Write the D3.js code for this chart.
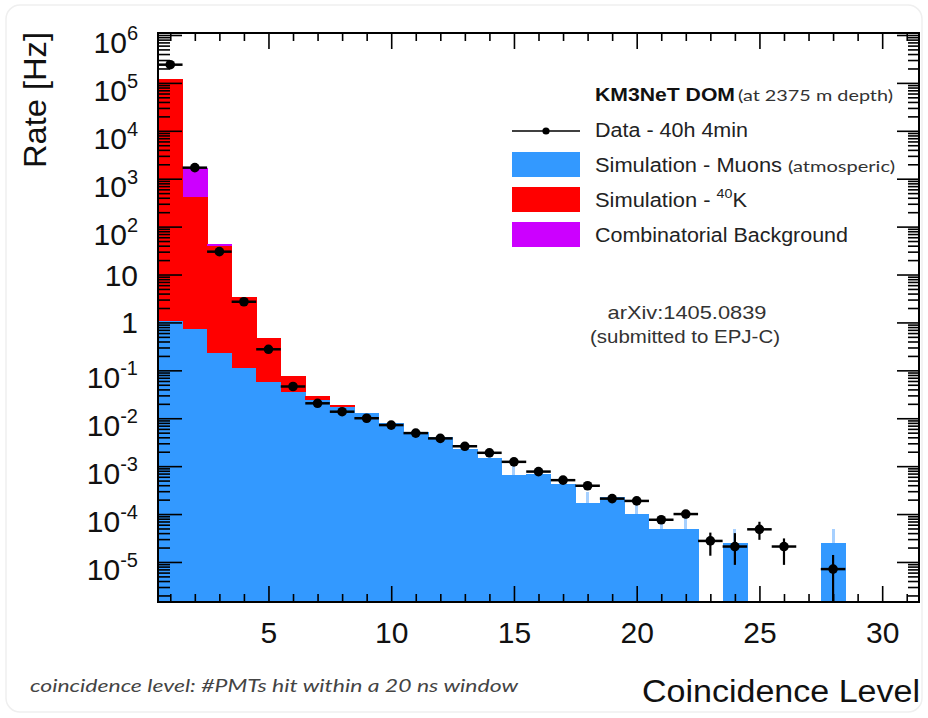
<!DOCTYPE html>
<html>
<head>
<meta charset="utf-8">
<script src="https://cdn.jsdelivr.net/npm/d3@7"></script>
<style>
  body { margin: 0; background: #fff; }
  text { font-family: "Liberation Sans", Arial, Helvetica, sans-serif; }
</style>
</head>
<body>
<svg id="chart" width="928" height="718"></svg>
<script>
// Coincidence level of each histogram bin
const levels = d3.range(1, 32);

// Simulated rates [Hz] per coincidence level (stacked: muons, 40K, combinatorial)
const muonRate = [1.09, 0.72, 0.227, 0.111, 0.058, 0.036, 0.024, 0.0175, 0.0131, 0.0081,
  0.0052, 0.0040, 0.0023, 0.00145, 0.00066, 0.00069, 0.00043, 0.00017, 0.00023, 0.0001,
  4.9e-5, 4.9e-5, 0, 2.5e-5, 0, 0, 0, 2.5e-5, 0, 0, 0];
const k40Rate = [1.2e5, 419, 39.8, 3.35, 0.42, 0.042, 0.005, 0.0015, 0, 0,
  0, 0, 0, 0, 0, 0, 0, 0, 0, 0, 0, 0, 0, 0, 0, 0, 0, 0, 0, 0, 0];
const combRate = [0, 1280, 3, 0, 0, 0, 0, 0, 0, 0,
  0, 0, 0, 0, 0, 0, 0, 0, 0, 0, 0, 0, 0, 0, 0, 0, 0, 0, 0, 0, 0];
// Upper end of the muon simulation uncertainty, where it shows above the bar
const muonErrHigh = [null, null, null, null, null, null, null, null, null, null,
  null, null, null, 0.0019, 0.00105, null, null, 0.000295, null, 0.00017,
  7e-5, 8.5e-5, null, 4.9e-5, null, null, null, 4.9e-5, null, null, null];

// Measured rates [Hz] (40h 4min of data) with their error bars
const dataRate = [2.4e5, 1700, 30, 2.7, 0.275, 0.046, 0.0205, 0.0137, 0.0100, 0.0072,
  0.0049, 0.0038, 0.0026, 0.0019, 0.00123, 0.00077, 0.00051, 0.00039, 0.00021, 0.000188,
  7.6e-5, 1.0e-4, 2.75e-5, 2.1e-5, 4.8e-5, 2.1e-5, null, 7.1e-6, null, null, null];
const dataLow = [null, null, null, null, null, null, null, null, null, null,
  null, null, null, null, null, null, null, null, null, null,
  6.2e-5, 8.2e-5, 1.35e-5, 8.7e-6, 2.9e-5, 8.7e-6, null, 0, null, null, null];
const dataHigh = [null, null, null, null, null, null, null, null, null, null,
  null, null, null, null, null, null, null, null, null, null,
  9.2e-5, 1.2e-4, 4.1e-5, 4.0e-5, 6.9e-5, 3.1e-5, null, 1.4e-5, null, null, null];

// Axis ticks and labels
const xMajorTicks = [5, 10, 15, 20, 25, 30];
const yDecades = d3.range(-5, 7);

const colors = { muon: "#3399ff", k40: "#ff0000", comb: "#cc00ff", muonErr: "#a6d0ff" };

const svg = d3.select("#chart");
const frameLeft = 158, frameRight = 919, frameTop = 33, frameBottom = 602;

const x = d3.scaleLinear().domain([0.5, 31.5]).range([frameLeft, frameRight]);
const y = d3.scaleLog().domain([1.46e-6, 1.1e6]).range([frameBottom, frameTop]).clamp(true);

// faint outer border of the figure
svg.append("rect").attr("x", 6).attr("y", 5).attr("width", 916).attr("height", 707)
  .attr("rx", 14).attr("fill", "none").attr("stroke", "#efefef").attr("stroke-width", 1.5);

// ---- stacked histogram ----
const rows = levels.map((l, i) => ({ level: l, muon: muonRate[i], k40: k40Rate[i], comb: combRate[i] }));
const stacked = d3.stack().keys(["muon", "k40", "comb"])(rows);

const plot = svg.append("g").attr("shape-rendering", "crispEdges");
stacked.forEach(layer => {
  plot.append("g").attr("fill", colors[layer.key])
    .selectAll("rect")
    .data(layer.filter(d => d[1] > d[0]))
    .join("rect")
    .attr("x", d => x(d.data.level - 0.5))
    .attr("width", d => x(d.data.level + 0.5) - x(d.data.level - 0.5) + 0.5)
    .attr("y", d => y(d[1]))
    .attr("height", d => (d[0] > 0 ? y(d[0]) : frameBottom) - y(d[1]));
});

// muon simulation uncertainty above the bars
plot.append("g").attr("stroke", colors.muonErr).attr("stroke-width", 3)
  .selectAll("line")
  .data(levels.map((l, i) => ({ level: l, v: muonRate[i], hi: muonErrHigh[i] })).filter(d => d.hi != null))
  .join("line")
  .attr("x1", d => x(d.level)).attr("x2", d => x(d.level))
  .attr("y1", d => y(d.v)).attr("y2", d => y(d.hi));

// ---- axes (ticks inside the frame on all four sides) ----
const yMajor = yDecades.map(e => Math.pow(10, e));
const yMinor = y.ticks(30).filter(v => !yMajor.some(m => Math.abs(v / m - 1) < 1e-6));
const xMinor = levels.filter(v => xMajorTicks.indexOf(v) < 0);

function bare(g) { g.select(".domain").remove(); g.selectAll(".tick line").attr("stroke", "#000").attr("stroke-width", 1.6); }

svg.append("g").attr("transform", `translate(${frameLeft},0)`)
  .call(d3.axisLeft(y).tickValues(yMinor).tickSizeInner(-12).tickSizeOuter(0).tickFormat(""))
  .call(bare);
const yAxis = svg.append("g").attr("transform", `translate(${frameLeft},0)`)
  .call(d3.axisLeft(y).tickValues(yMajor).tickSizeInner(-24).tickSizeOuter(0).tickPadding(20))
  .call(bare);
yAxis.selectAll(".tick text").each(function (d) {
  const e = Math.round(Math.log10(d));
  const t = d3.select(this).text(null).attr("fill", "#111")
    .attr("font-size", 30).attr("dy", null).attr("text-anchor", "end");
  if (e === 0 || e === 1) {
    t.attr("y", 10.5).text(e === 0 ? "1" : "10");
  } else {
    t.attr("y", 17.5);
    t.append("tspan").text("10");
    t.append("tspan").attr("font-size", 20).attr("dy", -13).text(String(e));
  }
});

svg.append("g").attr("transform", `translate(${frameRight},0)`)
  .call(d3.axisRight(y).tickValues(yMinor).tickSizeInner(-11).tickSizeOuter(0).tickFormat(""))
  .call(bare);
svg.append("g").attr("transform", `translate(${frameRight},0)`)
  .call(d3.axisRight(y).tickValues(yMajor).tickSizeInner(-22).tickSizeOuter(0).tickFormat(""))
  .call(bare);

svg.append("g").attr("transform", `translate(0,${frameBottom})`)
  .call(d3.axisBottom(x).tickValues(xMinor).tickSizeInner(-8).tickSizeOuter(0).tickFormat(""))
  .call(bare);
const xAxis = svg.append("g").attr("transform", `translate(0,${frameBottom})`)
  .call(d3.axisBottom(x).tickValues(xMajorTicks).tickSizeInner(-16).tickSizeOuter(0).tickFormat(d3.format("d")))
  .call(bare);
xAxis.selectAll(".tick text").attr("font-size", 30).attr("fill", "#111").attr("y", 41).attr("dy", null);

svg.append("g").attr("transform", `translate(0,${frameTop})`)
  .call(d3.axisTop(x).tickValues(xMinor).tickSizeInner(-8).tickSizeOuter(0).tickFormat(""))
  .call(bare);
svg.append("g").attr("transform", `translate(0,${frameTop})`)
  .call(d3.axisTop(x).tickValues(xMajorTicks).tickSizeInner(-16).tickSizeOuter(0).tickFormat(""))
  .call(bare);

// frame
svg.append("rect").attr("x", frameLeft).attr("y", frameTop)
  .attr("width", frameRight - frameLeft).attr("height", frameBottom - frameTop)
  .attr("fill", "none").attr("stroke", "#000").attr("stroke-width", 2);

// ---- data points ----
const pts = levels.map((l, i) => ({ level: l, v: dataRate[i], lo: dataLow[i], hi: dataHigh[i] })).filter(d => d.v != null);
const dg = svg.append("g").attr("stroke", "#000");
dg.selectAll("line.h").data(pts).join("line").attr("class", "h")
  .attr("x1", d => x(d.level - 0.5)).attr("x2", d => x(d.level + 0.5))
  .attr("y1", d => y(d.v)).attr("y2", d => y(d.v)).attr("stroke-width", 2.5);
dg.selectAll("line.v").data(pts.filter(d => d.hi != null)).join("line").attr("class", "v")
  .attr("x1", d => x(d.level)).attr("x2", d => x(d.level))
  .attr("y1", d => d.lo > 0 ? y(d.lo) : frameBottom).attr("y2", d => y(d.hi)).attr("stroke-width", 2.2);
dg.selectAll("circle").data(pts).join("circle")
  .attr("cx", d => x(d.level)).attr("cy", d => y(d.v)).attr("r", 4.8).attr("fill", "#000").attr("stroke", "none");

// ---- legend ----
const lg = svg.append("g");
lg.append("text").attr("x", 595).attr("y", 101).attr("font-size", 19).attr("font-weight", "bold")
  .attr("fill", "#111").attr("textLength", 140).attr("lengthAdjust", "spacingAndGlyphs").text("KM3NeT DOM");
lg.append("text").attr("x", 738).attr("y", 101).attr("font-size", 16).attr("fill", "#333")
  .style("font-family", "Lato, 'Open Sans', sans-serif")
  .attr("textLength", 155).attr("lengthAdjust", "spacingAndGlyphs").text("(at 2375 m depth)");

lg.append("line").attr("x1", 512).attr("x2", 580).attr("y1", 131).attr("y2", 131).attr("stroke", "#000").attr("stroke-width", 1.6);
lg.append("circle").attr("cx", 546).attr("cy", 131).attr("r", 3.6).attr("fill", "#000");
lg.append("text").attr("x", 595).attr("y", 137).attr("font-size", 20).attr("fill", "#222")
  .attr("textLength", 153).attr("lengthAdjust", "spacingAndGlyphs").text("Data - 40h 4min");

const boxes = [
  { key: "muon", y: 152, label: "Simulation - Muons", width: 187 },
  { key: "k40", y: 187, label: null, width: 152 },
  { key: "comb", y: 222, label: "Combinatorial Background", width: 253 }
];
boxes.forEach(b => {
  lg.append("rect").attr("x", 512).attr("y", b.y).attr("width", 68).attr("height", 25).attr("fill", colors[b.key]);
  const t = lg.append("text").attr("x", 595).attr("y", b.y + 20).attr("font-size", 20).attr("fill", "#222")
    .attr("textLength", b.width).attr("lengthAdjust", "spacingAndGlyphs");
  if (b.label) t.text(b.label);
  else {
    t.append("tspan").text("Simulation - ");
    t.append("tspan").attr("font-size", 13).attr("dy", -9).text("40");
    t.append("tspan").attr("dy", 9).text("K");
  }
});
lg.append("text").attr("x", 788).attr("y", 172).attr("font-size", 16).attr("fill", "#333")
  .style("font-family", "Lato, 'Open Sans', sans-serif")
  .attr("textLength", 107).attr("lengthAdjust", "spacingAndGlyphs").text("(atmosperic)");

// reference note
const note = svg.append("g").attr("fill", "#333").attr("text-anchor", "middle")
  .style("font-family", "Lato, 'Open Sans', sans-serif").attr("font-size", 19);
note.append("text").attr("x", 687).attr("y", 319).attr("textLength", 159).attr("lengthAdjust", "spacingAndGlyphs").text("arXiv:1405.0839");
note.append("text").attr("x", 685).attr("y", 343).attr("textLength", 190).attr("lengthAdjust", "spacingAndGlyphs").text("(submitted to EPJ-C)");

// axis titles
svg.append("text").attr("transform", "translate(46,168) rotate(-90)").attr("font-size", 31).attr("fill", "#111")
  .attr("textLength", 136).attr("lengthAdjust", "spacingAndGlyphs").text("Rate [Hz]");
svg.append("text").attr("x", 642).attr("y", 702).attr("font-size", 31).attr("fill", "#111")
  .attr("textLength", 278).attr("lengthAdjust", "spacingAndGlyphs").text("Coincidence Level");

// footnote
svg.append("text").attr("x", 30).attr("y", 692).attr("font-size", 17).attr("font-style", "italic").attr("fill", "#444")
  .style("font-family", "Lato, 'Open Sans', sans-serif")
  .attr("textLength", 488).attr("lengthAdjust", "spacingAndGlyphs")
  .text("coincidence level: #PMTs hit within a 20 ns window");
</script>
</body>
</html>
